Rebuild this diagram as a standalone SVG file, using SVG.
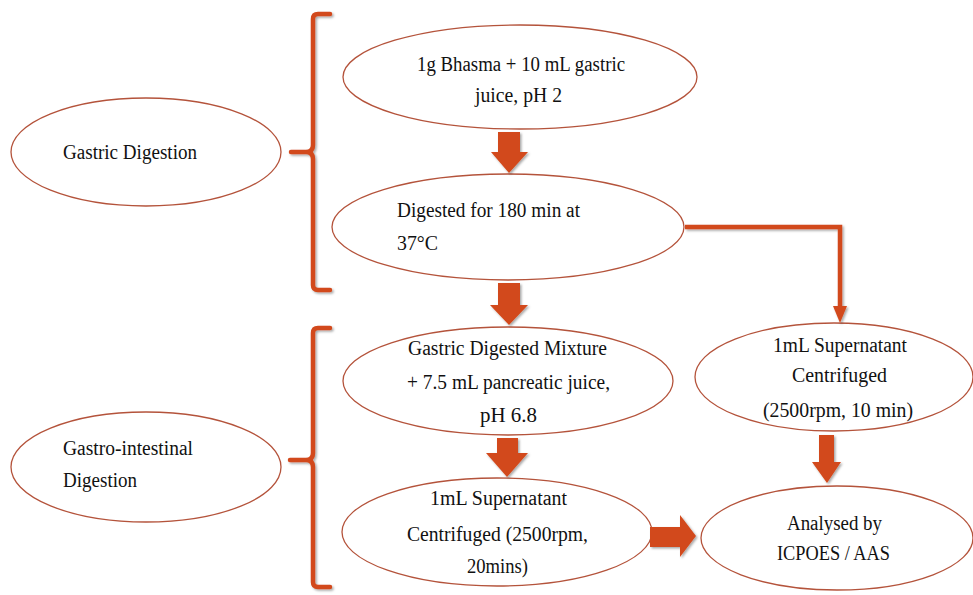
<svg xmlns="http://www.w3.org/2000/svg" width="973" height="595" viewBox="0 0 973 595" font-family="'Liberation Serif', 'Times New Roman', serif">
<defs>
<filter id="sh" x="-20%" y="-20%" width="140%" height="140%">
<feDropShadow dx="1.5" dy="1.5" stdDeviation="1" flood-color="#000" flood-opacity="0.35"/>
</filter>
</defs>
<style>
.node ellipse{fill:#fff;stroke:#B4533B;stroke-width:1.3}
text{font-family:"Liberation Serif","Times New Roman",serif;font-size:20px;fill:#111}
.brace{fill:none;stroke:#D2491B;stroke-width:4.5;stroke-linejoin:round;stroke-linecap:round;filter:url(#sh)}
.blk{fill:#D2491B;filter:url(#sh)}
.ln{fill:none;stroke:#D2491B;stroke-width:4.5;filter:url(#sh)}
</style>
<rect width="973" height="595" fill="#fff"/>

<g id="gastric-digestion" class="node">
<ellipse cx="146" cy="152" rx="135" ry="54"/>
<text x="63" y="159" textLength="134" lengthAdjust="spacingAndGlyphs">Gastric Digestion</text>
</g>
<g id="gastro-intestinal-digestion" class="node">
<ellipse cx="146" cy="467" rx="135" ry="55"/>
<text x="63" y="455" textLength="130" lengthAdjust="spacingAndGlyphs">Gastro-intestinal</text>
<text x="63" y="487" textLength="74" lengthAdjust="spacingAndGlyphs">Digestion</text>
</g>
<g id="bhasma" class="node">
<ellipse cx="520" cy="77" rx="177" ry="52"/>
<text x="417" y="71" textLength="208" lengthAdjust="spacingAndGlyphs">1g Bhasma + 10 mL gastric</text>
<text x="475" y="102" textLength="87" lengthAdjust="spacingAndGlyphs">juice, pH 2</text>
</g>
<g id="digested" class="node">
<ellipse cx="508" cy="227" rx="176" ry="53"/>
<text x="397" y="217" textLength="183" lengthAdjust="spacingAndGlyphs">Digested for 180 min at</text>
<text x="397" y="250" textLength="41" lengthAdjust="spacingAndGlyphs">37°C</text>
</g>
<g id="mixture" class="node">
<ellipse cx="508" cy="381" rx="165" ry="54"/>
<text x="408" y="355" textLength="199" lengthAdjust="spacingAndGlyphs">Gastric Digested Mixture</text>
<text x="407" y="389" textLength="203" lengthAdjust="spacingAndGlyphs">+ 7.5 mL pancreatic juice,</text>
<text x="480" y="422" textLength="57" lengthAdjust="spacingAndGlyphs">pH 6.8</text>
</g>
<g id="supernatant-20" class="node">
<ellipse cx="497" cy="532" rx="155" ry="54"/>
<text x="430" y="505" textLength="137" lengthAdjust="spacingAndGlyphs">1mL Supernatant</text>
<text x="407" y="541" textLength="181" lengthAdjust="spacingAndGlyphs">Centrifuged (2500rpm,</text>
<text x="467" y="573" textLength="61" lengthAdjust="spacingAndGlyphs">20mins)</text>
</g>
<g id="supernatant-10" class="node">
<ellipse cx="834" cy="377" rx="139" ry="54"/>
<text x="773" y="352" textLength="134" lengthAdjust="spacingAndGlyphs">1mL Supernatant</text>
<text x="792" y="382" textLength="95" lengthAdjust="spacingAndGlyphs">Centrifuged</text>
<text x="763" y="417" textLength="150" lengthAdjust="spacingAndGlyphs">(2500rpm, 10 min)</text>
</g>
<g id="analysed" class="node">
<ellipse cx="837" cy="538" rx="136" ry="52"/>
<text x="787" y="530" textLength="95" lengthAdjust="spacingAndGlyphs">Analysed by</text>
<text x="777" y="560" textLength="113" lengthAdjust="spacingAndGlyphs">ICPOES / AAS</text>
</g>

<g id="connectors">
<path class="brace" d="M330,14 L318,14 Q313,14 313,19 L313,145 Q313,152 306,152 L291,152 M306,152 Q313,152 313,159 L313,285 Q313,290 318,290 L330,290"/>
<path class="brace" d="M330,328 L318,328 Q313,328 313,333 L313,453 Q313,460 306,460 L290,460 M306,460 Q313,460 313,467 L313,582 Q313,587 318,587 L330,587"/>
<polygon class="blk" points="498,132 520,132 520,152 528,152 509,173 491,152 498,152"/>
<polygon class="blk" points="498,283 520,283 520,305 528,305 509,325 490,305 498,305"/>
<polygon class="blk" points="497,438 518,438 518,453 528,453 507,477 486,453 497,453"/>
<polygon class="blk" points="650,527 680,527 680,515 696,536 680,557 680,547 650,547"/>
<polygon class="blk" points="819,435 834,435 834,462 841,462 827,483 812,462 819,462"/>
<path class="ln" d="M685,227 L840,227 L840,309"/>
<polygon class="blk" points="833,306 847,306 840,323"/>
</g>
</svg>
